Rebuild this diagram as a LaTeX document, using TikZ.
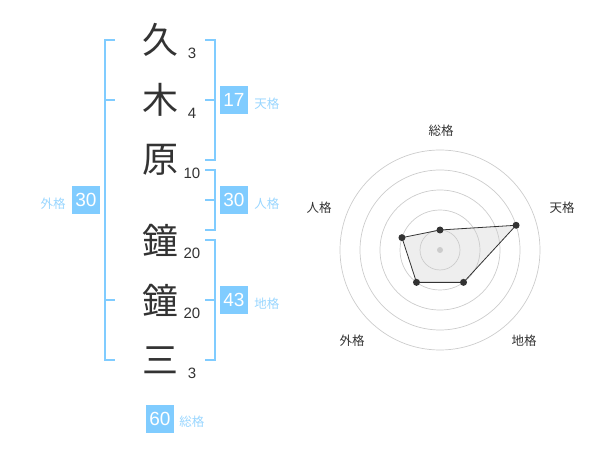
\documentclass[tikz,border=0pt]{standalone}
\usepackage{fontspec}
\setmainfont{Liberation Sans}
\newfontfamily\jpfont{Noto Sans CJK JP}
\usetikzlibrary{positioning}
\definecolor{kakublue}{HTML}{80CCFF}
\definecolor{kakulight}{HTML}{99D6FF}
\definecolor{inkgray}{HTML}{333333}
\definecolor{ringgray}{HTML}{CCCCCC}
\definecolor{areagray}{HTML}{EEEEEE}

\begin{document}
\begin{tikzpicture}[x=1pt,y=-1pt]
      \tikzset{
        kanji/.style={font=\jpfont\fontsize{36}{36}\selectfont, text=inkgray, inner sep=0pt},
        strokes/.style={font=\fontsize{15}{15}\selectfont, text=inkgray, inner sep=0pt},
        kakubox/.style={fill=kakublue, text=white, minimum size=28pt, inner sep=0pt, font=\fontsize{19}{19}\selectfont},
        kakulabel/.style={font=\jpfont\fontsize{12.5}{12.5}\selectfont, text=kakulight, inner sep=0pt},
        bracket/.style={draw=kakublue, line width=2pt},
        ring/.style={draw=ringgray, line width=0.7pt},
        axislabel/.style={font=\jpfont\fontsize{12.5}{12.5}\selectfont, text=inkgray, inner sep=0pt},
        scoredot/.style={circle, fill=inkgray, inner sep=0pt, minimum size=7pt},
      }
      \useasboundingbox (0,0) rectangle (600,470);

      % name, one character per row
      \node[kanji] (k1) at (160,40) {久};
      \node[kanji] (k2) at (160,100) {木};
      \node[kanji] (k3) at (160,160) {原};
      \node[kanji] (k4) at (160,240) {鐘};
      \node[kanji] (k5) at (160,300) {鐘};
      \node[kanji] (k6) at (160,360) {三};

      \node[strokes] (s1) at (192,53) {3};
      \node[strokes] (s2) at (192,113) {4};
      \node[strokes] (s3) at (192,173) {10};
      \node[strokes] (s4) at (192,253) {20};
      \node[strokes] (s5) at (192,313) {20};
      \node[strokes] (s6) at (192,373) {3};

      % brackets
      \draw[bracket] (115,40) -- (105,40) -- (105,360) -- (115,360);
      \draw[bracket] (105,100) -- (115,100);
      \draw[bracket] (105,300) -- (115,300);
      \draw[bracket] (205,40) -- (215,40) -- (215,160) -- (205,160);
      \draw[bracket] (205,100) -- (215,100);
      \draw[bracket] (205,170) -- (215,170) -- (215,230) -- (205,230);
      \draw[bracket] (205,200) -- (215,200);
      \draw[bracket] (205,240) -- (215,240) -- (215,360) -- (205,360);
      \draw[bracket] (205,300) -- (215,300);

      \node[kakubox] (tenbox) at (234,100) {17};
      \node[kakulabel, right=6pt of tenbox, yshift=-4pt] (tenlbl) {天格};
      \node[kakubox] (jinbox) at (234,200) {30};
      \node[kakulabel, right=6pt of jinbox, yshift=-4pt] (jinlbl) {人格};
      \node[kakubox] (chibox) at (234,300) {43};
      \node[kakulabel, right=6pt of chibox, yshift=-4pt] (chilbl) {地格};
      \node[kakubox] (gaibox) at (86,200) {30};
      \node[kakulabel, left=6pt of gaibox, yshift=-4pt] (gailbl) {外格};
      \node[kakubox] (soubox) at (160,419) {60};
      \node[kakulabel, right=5pt of soubox, yshift=-3pt] (soulbl) {総格};

      % radar
      \begin{scope}[shift={(440,250)}, y=1pt]
        \coordinate (rsou) at (90:20pt);
        \coordinate (rten) at (18:80pt);
        \coordinate (rchi) at (-54:40pt);
        \coordinate (rgai) at (234:40pt);
        \coordinate (rjin) at (162:40pt);
        \fill[areagray] (rsou) -- (rten) -- (rchi) -- (rgai) -- (rjin) -- cycle;
        \foreach \r in {20,40,...,100}
          \draw[ring] (0,0) circle (\r pt);
        \draw[inkgray, line width=0.8pt] (rsou) -- (rten) -- (rchi) -- (rgai) -- (rjin) -- cycle;
        \node[circle, fill=ringgray, inner sep=0pt, minimum size=6pt] (rmid) at (0,0) {};
        \foreach \p in {rsou,rten,rchi,rgai,rjin}
          \node[scoredot] at (\p) {};
      \end{scope}

      \node[axislabel] (asou) at (441,131) {総格};
      \node[axislabel] (aten) at (562,208) {天格};
      \node[axislabel] (achi) at (524,341) {地格};
      \node[axislabel] (agai) at (352,341) {外格};
      \node[axislabel] (ajin) at (319,208) {人格};
\end{tikzpicture}
\end{document}
